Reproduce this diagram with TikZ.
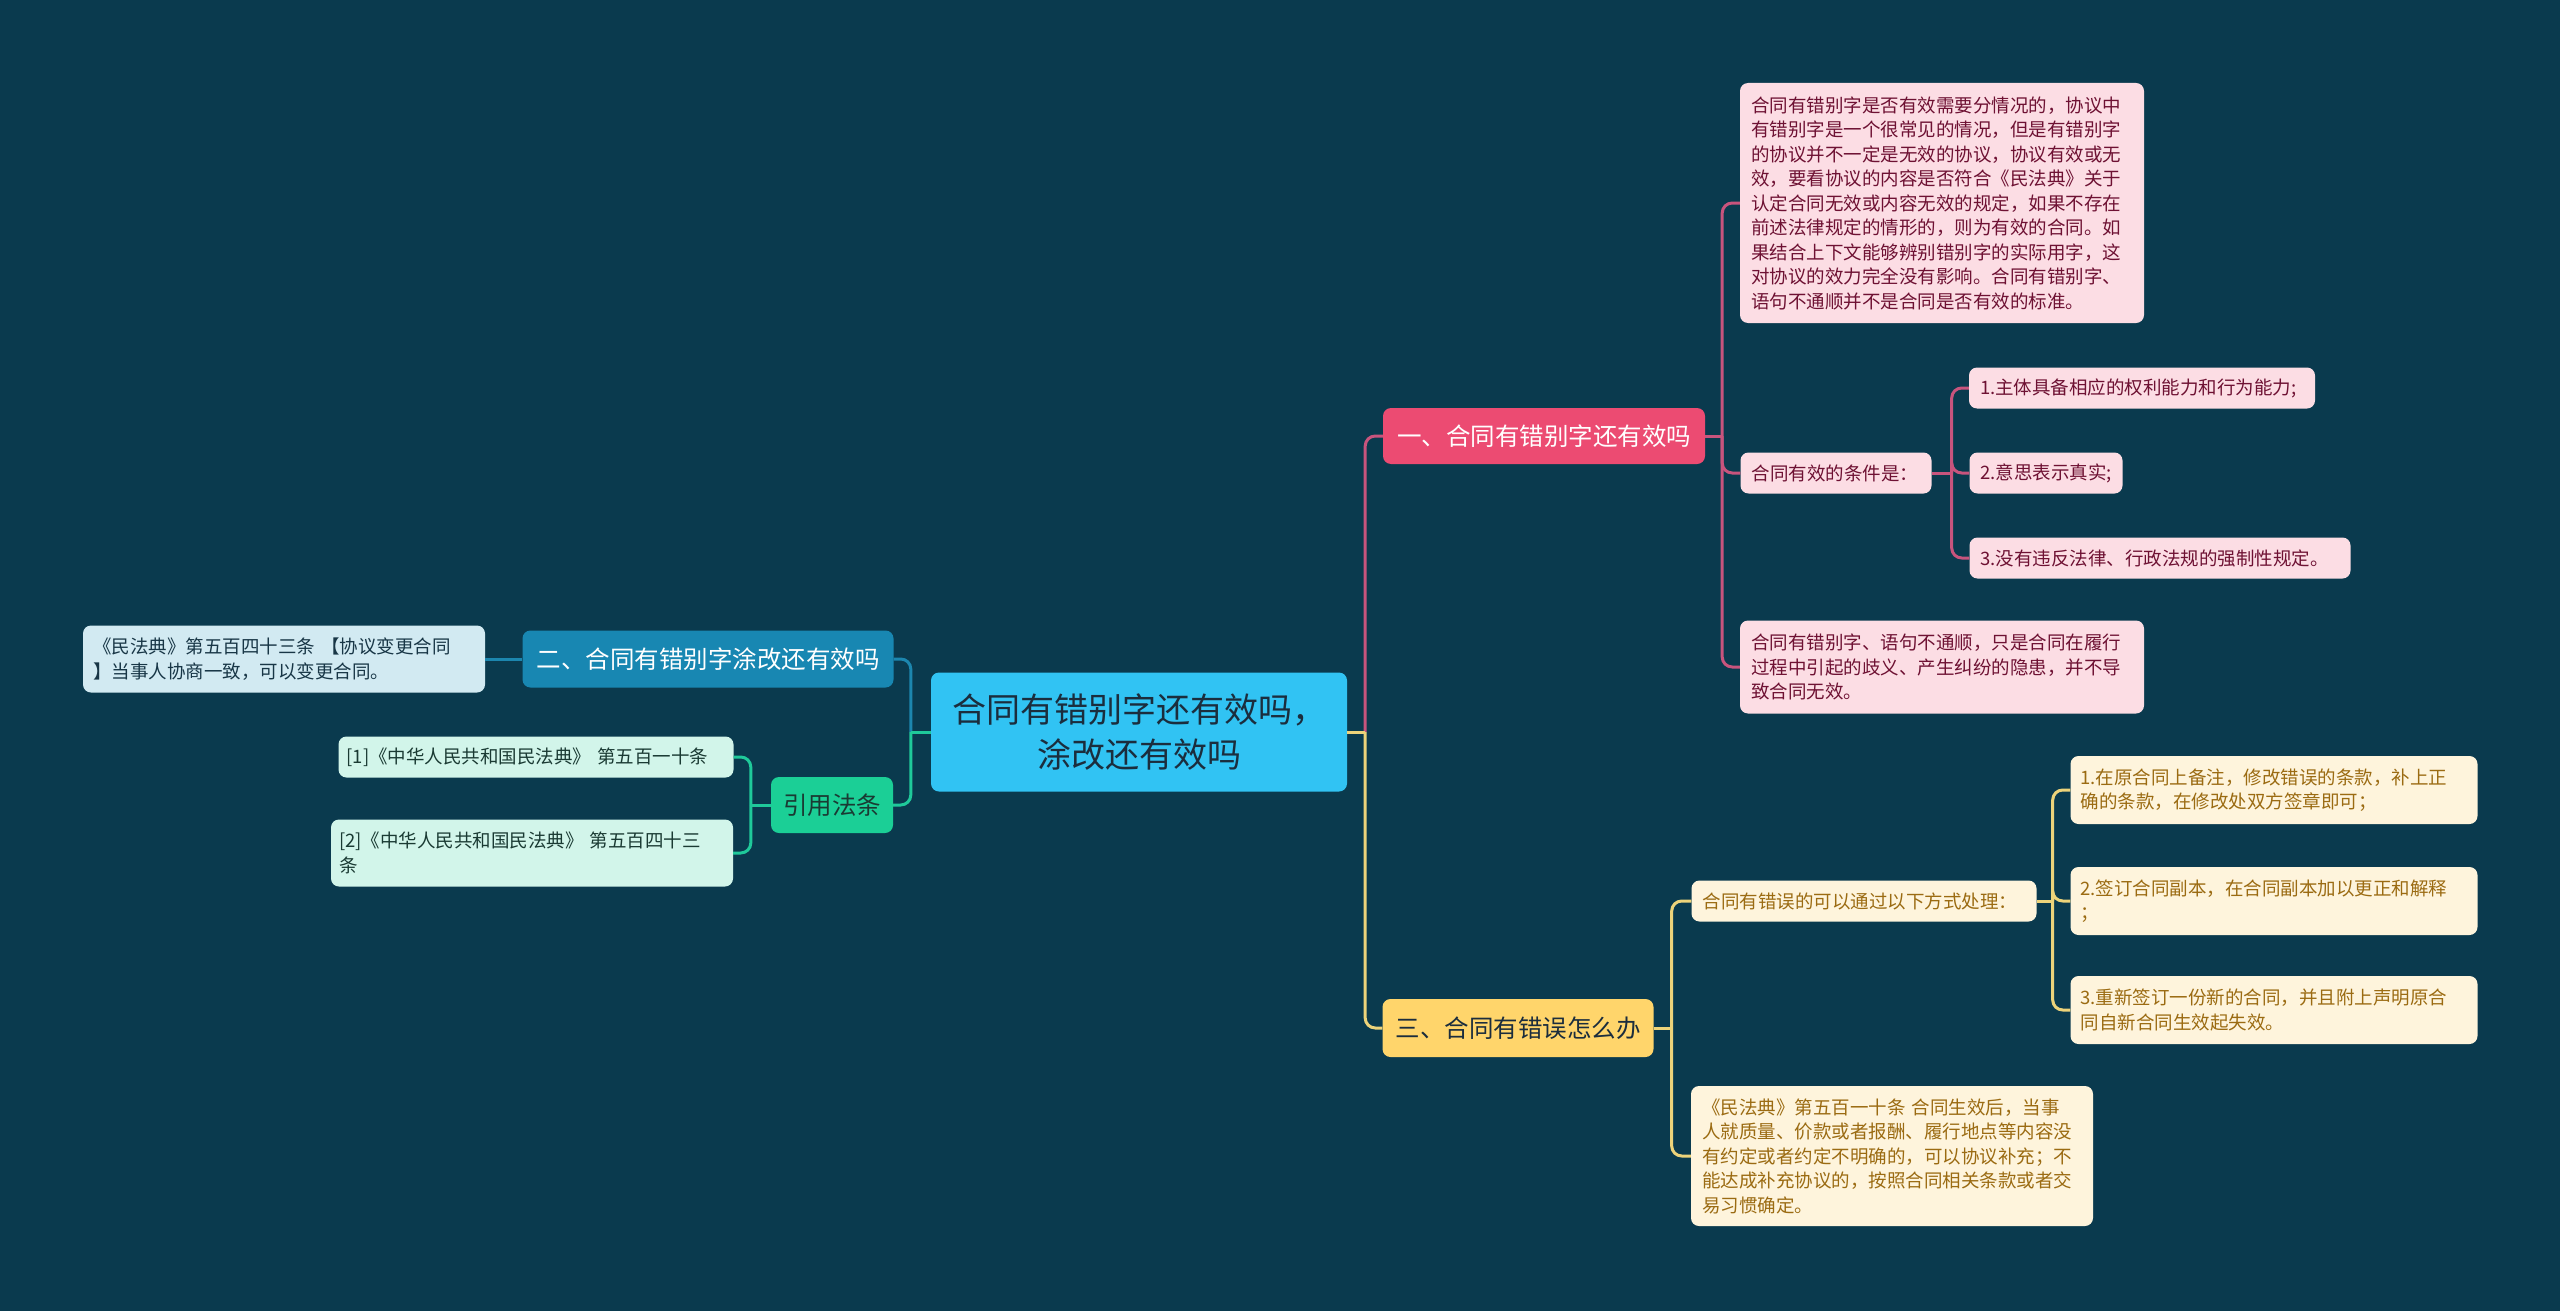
\documentclass[tikz,border=0pt]{standalone}
\usepackage{fontspec}
\newfontfamily\cjk{Noto Sans CJK SC}
\usetikzlibrary{calc}
\definecolor{bg}{HTML}{0A3A4E}
\definecolor{rootfill}{HTML}{31C3F3}
\definecolor{roottext}{HTML}{1B2D3D}
\definecolor{redfill}{HTML}{EC4B72}
\definecolor{yelfill}{HTML}{FFD56B}
\definecolor{bluefill}{HTML}{1887B2}
\definecolor{grnfill}{HTML}{1BCF96}
\definecolor{pinkleaf}{HTML}{FCDDE4}
\definecolor{pinktext}{HTML}{6E1133}
\definecolor{creamleaf}{HTML}{FEF4DC}
\definecolor{creamtext}{HTML}{9B6B12}
\definecolor{lbleaf}{HTML}{D2EAF2}
\definecolor{lbtext}{HTML}{183646}
\definecolor{mintleaf}{HTML}{D2F5EA}
\definecolor{minttext}{HTML}{1A3A33}
\definecolor{redline}{HTML}{C8547D}
\definecolor{yelline}{HTML}{EDD37A}
\definecolor{blueline}{HTML}{1C86AE}
\definecolor{grnline}{HTML}{1FC99A}
\begin{document}
\begin{tikzpicture}[x=1pt,y=-1pt,
  box/.style={rounded corners=8pt, inner sep=0pt, draw=none},
  leaffont/.style={font=\cjk\fontsize{18.5pt}{24.5pt}\selectfont},
  branchfont/.style={font=\cjk\fontsize{24.5pt}{30pt}\selectfont},
  pinkbox/.style={box, fill=pinkleaf, text=pinktext, leaffont, align=left},
  creambox/.style={box, fill=creamleaf, text=creamtext, leaffont, align=left},
  lbbox/.style={box, fill=lbleaf, text=lbtext, leaffont, align=left},
  mintbox/.style={box, fill=mintleaf, text=minttext, leaffont, align=left},
  conn/.style={line width=3pt, rounded corners=10pt},
  rconn/.style={conn, draw=redline},
  yconn/.style={conn, draw=yelline},
  bconn/.style={conn, draw=blueline},
  gconn/.style={conn, draw=grnline}]
\useasboundingbox (0,0) rectangle (2560,1311);
\fill[bg] (0,0) rectangle (2560,1311);

% root
\node[box, fill=rootfill, text=roottext, align=center, minimum width=416pt, minimum height=119pt,
  font=\cjk\fontsize{34pt}{45pt}\selectfont] (root) at (1139,732) {合同有错别字还有效吗，\\涂改还有效吗};

% main branches
\node[box, fill=redfill, text=white, branchfont, minimum width=322pt, minimum height=56pt] (b1) at (1544,436) {一、合同有错别字还有效吗};
\node[box, fill=yelfill, text=roottext, branchfont, minimum width=271pt, minimum height=58pt] (b3) at (1518,1028) {三、合同有错误怎么办};
\node[box, fill=bluefill, text=white, branchfont, minimum width=371pt, minimum height=57pt] (b2) at (708,659) {二、合同有错别字涂改还有效吗};
\node[box, fill=grnfill, text=minttext, branchfont, minimum width=122pt, minimum height=56pt] (b4) at (832,805) {引用法条};

% red leaves
\node[pinkbox, minimum width=404pt, minimum height=240pt, text width=382pt] (p1) at (1942,203) {合同有错别字是否有效需要分情况的，协议中\\有错别字是一个很常见的情况，但是有错别字\\的协议并不一定是无效的协议，协议有效或无\\效，要看协议的内容是否符合《民法典》关于\\认定合同无效或内容无效的规定，如果不存在\\前述法律规定的情形的，则为有效的合同。如\\果结合上下文能够辨别错别字的实际用字，这\\对协议的效力完全没有影响。合同有错别字、\\语句不通顺并不是合同是否有效的标准。};
\node[pinkbox, minimum width=191pt, minimum height=41pt, text width=169pt] (cond) at (1836,473) {合同有效的条件是：};
\node[pinkbox, minimum width=346pt, minimum height=41pt, text width=324pt] (c1) at (2142,388) {1.主体具备相应的权利能力和行为能力;};
\node[pinkbox, minimum width=153pt, minimum height=41pt, text width=131pt] (c2) at (2046,473) {2.意思表示真实;};
\node[pinkbox, minimum width=381pt, minimum height=41pt, text width=359pt] (c3) at (2160,558) {3.没有违反法律、行政法规的强制性规定。};
\node[pinkbox, minimum width=404pt, minimum height=93pt, text width=382pt] (p2) at (1942,667) {合同有错别字、语句不通顺，只是合同在履行\\过程中引起的歧义、产生纠纷的隐患，并不导\\致合同无效。};

% yellow leaves
\node[creambox, minimum width=345pt, minimum height=41pt, text width=323pt] (q) at (1864,901) {合同有错误的可以通过以下方式处理：};
\node[creambox, minimum width=407pt, minimum height=68pt, text width=387pt] (y1) at (2274,790) {1.在原合同上备注，修改错误的条款，补上正\\确的条款，在修改处双方签章即可；};
\node[creambox, minimum width=407pt, minimum height=68pt, text width=387pt] (y2) at (2274,901) {2.签订合同副本，在合同副本加以更正和解释\\；};
\node[creambox, minimum width=407pt, minimum height=68pt, text width=387pt] (y3) at (2274,1010) {3.重新签订一份新的合同，并且附上声明原合\\同自新合同生效起失效。};
\node[creambox, minimum width=402pt, minimum height=140pt, text width=380pt] (law) at (1892,1156) {《民法典》第五百一十条~合同生效后，当事\\人就质量、价款或者报酬、履行地点等内容没\\有约定或者约定不明确的，可以协议补充；不\\能达成补充协议的，按照合同相关条款或者交\\易习惯确定。};

% left leaves
\node[lbbox, minimum width=402pt, minimum height=67pt, text width=382pt] (l1) at (284,659) {《民法典》第五百四十三条~【协议变更合同\\】当事人协商一致，可以变更合同。};
\node[mintbox, minimum width=395pt, minimum height=41pt, text width=379pt] (r1) at (536,757) {[1]《中华人民共和国民法典》~第五百一十条};
\node[mintbox, minimum width=402pt, minimum height=67pt, text width=386pt] (r2) at (532,853) {[2]《中华人民共和国民法典》~第五百四十三\\条};

% spine coordinates
\coordinate (rs) at ([xshift=18pt]root.east);
\coordinate (ls) at ([xshift=-20pt]root.west);
\coordinate (s1) at ([xshift=17pt]b1.east);
\coordinate (s1c) at ([xshift=20pt]cond.east);
\coordinate (s3) at ([xshift=18pt]b3.east);
\coordinate (s3q) at ([xshift=16pt]q.east);
\coordinate (s4) at ([xshift=-20pt]b4.west);

% right of root
\draw[rconn] (rs) |- (b1.west);
\draw[yconn] (rs) |- (b3.west);
\draw[yconn] (root.east) -- (rs);

% left of root
\draw[bconn] (ls) |- (b2.east);
\draw[gconn] (ls) |- (b4.east);
\draw[gconn] (root.west) -- (ls);

% red branch
\draw[rconn] (b1.east) -- (s1);
\draw[rconn] (s1) |- (p1.west);
\draw[rconn] (s1) |- (cond.west);
\draw[rconn] (s1) |- (p2.west);
\draw[rconn] (cond.east) -- (s1c);
\draw[rconn] (s1c) |- (c1.west);
\draw[rconn] (s1c) |- (c2.west);
\draw[rconn] (s1c) |- (c3.west);

% yellow branch
\draw[yconn] (b3.east) -- (s3);
\draw[yconn] (s3) |- (q.west);
\draw[yconn] (s3) |- (law.west);
\draw[yconn] (q.east) -- (s3q);
\draw[yconn] (s3q) |- (y1.west);
\draw[yconn] (s3q) |- (y2.west);
\draw[yconn] (s3q) |- (y3.west);

% blue and green
\draw[bconn] (b2.west) -- (l1.east);
\draw[gconn] (b4.west) -- (s4);
\draw[gconn] (s4) |- (r1.east);
\draw[gconn] (s4) |- (r2.east);
\end{tikzpicture}
\end{document}
